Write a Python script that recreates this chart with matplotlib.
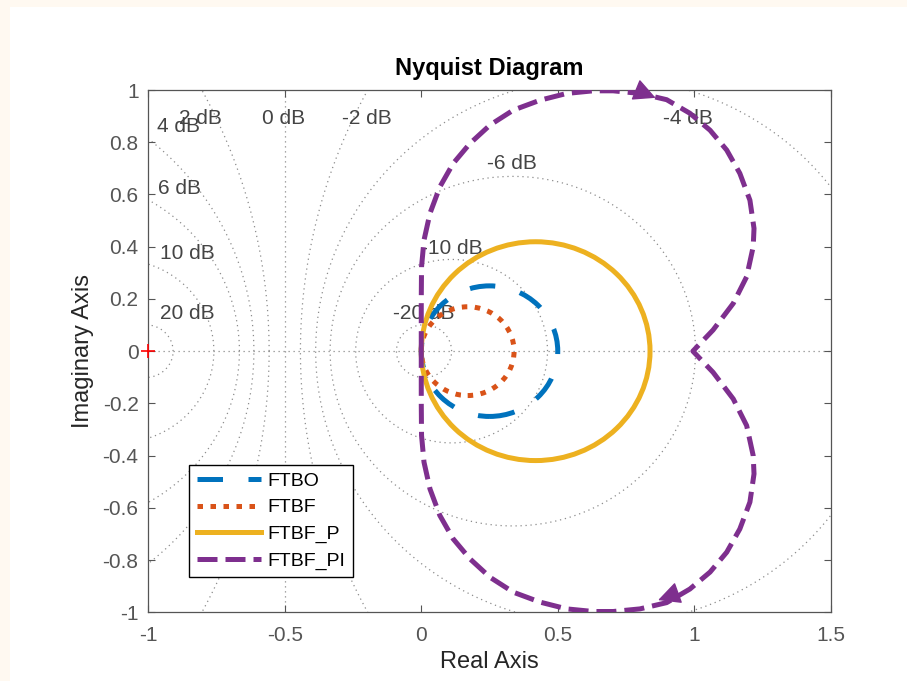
import numpy as np
import matplotlib
matplotlib.use('Agg')
import matplotlib.pyplot as plt
from matplotlib.patches import Circle, Rectangle
from matplotlib.lines import Line2D

plt.rcParams['font.family'] = ['Liberation Sans', 'DejaVu Sans']

#%% datos leidos del grafico
# lazos de primer orden -> circulos (centro, radio) sobre el eje real
circ_names = ['FTBO', 'FTBF', 'FTBF_P']
circ_center = [0.25, 0.17, 0.419]
circ_radius = [0.25, 0.17, 0.419]

# FTBF_PI, mitad superior, desde w=0 (1,0) hasta w->inf (0,0)
pi_re = [0.995, 1.069, 1.143, 1.192, 1.216, 1.219, 1.204, 1.167, 1.119, 1.058,
         0.984, 0.899, 0.801, 0.703, 0.630, 0.533, 0.435, 0.337, 0.252, 0.178,
         0.117, 0.068, 0.032, 0.010, 0.001, 0.0, 0.0, 0.0]
pi_im = [0.0, 0.081, 0.183, 0.285, 0.400, 0.470, 0.578, 0.681, 0.770, 0.846,
         0.911, 0.963, 0.987, 0.997, 0.997, 0.987, 0.961, 0.923, 0.866, 0.795,
         0.719, 0.629, 0.528, 0.425, 0.323, 0.196, 0.08, 0.0]

# grilla de M-circulos
grid_db = [20, 10, 6, 4, 2, 0, -2, -4, -6, -10, -20]
db_lab_x = [-0.858, -0.858, -0.887, -0.888, -0.81, -0.506, -0.198, 0.977, 0.331, 0.111, 0.01]
db_lab_y = [0.146, 0.375, 0.624, 0.86, 0.89, 0.89, 0.89, 0.89, 0.72, 0.395, 0.146]

xticks = [-1, -0.5, 0, 0.5, 1, 1.5]
xtick_lab = ['-1', '-0.5', '0', '0.5', '1', '1.5']
yticks = [1, 0.8, 0.6, 0.4, 0.2, 0, -0.2, -0.4, -0.6, -0.8, -1]
ytick_lab = ['1', '0.8', '0.6', '0.4', '0.2', '0', '-0.2', '-0.4', '-0.6', '-0.8', '-1']

c_blue = '#0072BD'
c_red = '#D95319'
c_yel = '#EDB120'
c_pur = '#7E2F8E'
c_grid = '#8c8c8c'

#%% figura
fig = plt.figure(figsize=(9.07, 6.81), dpi=100)
fig.patch.set_facecolor('#fff9f1')
fig.add_artist(Rectangle((10/907, 0), 1, 674/681, transform=fig.transFigure,
                         facecolor='white', edgecolor='none', zorder=-10))
ax = fig.add_axes([0.1635, 0.1009, 0.7524, 0.7669])

# M-circulos
th = np.linspace(0, 2*np.pi, 720)
for db in grid_db:
    if db == 0:
        ax.axvline(-0.5, color=c_grid, lw=0.9, ls=(0, (1, 3)), zorder=1)
        continue
    M = 10**(db/20)
    c = -M**2/(M**2 - 1)
    r = abs(M/(M**2 - 1))
    ax.plot(c + r*np.cos(th), r*np.sin(th), color=c_grid, lw=0.9, ls=(0, (1, 3)), zorder=1)
ax.axhline(0, color=c_grid, lw=0.9, ls=(0, (1, 3)), zorder=1)

for db, lx, ly in zip(grid_db, db_lab_x, db_lab_y):
    ax.text(lx, ly, f'{db} dB', fontsize=15, color='#444444', ha='center', va='center', zorder=2)

# curvas
lw = 3.6
estilos = [dict(color=c_blue, ls=(0, (5.1, 5.1))),
           dict(color=c_red, ls=(0, (1.1, 1.5))),
           dict(color=c_yel, ls='-')]
for cx, rr, st in zip(circ_center, circ_radius, estilos):
    ax.add_patch(Circle((cx, 0), rr, fill=False, lw=lw, edgecolor=st['color'],
                        linestyle=st['ls'], zorder=3))

up_x = np.array(pi_re)
up_y = np.array(pi_im)
full_x = np.concatenate([up_x[::-1], up_x[1:]])
full_y = np.concatenate([up_y[::-1], -up_y[1:]])
ax.plot(full_x, full_y, color=c_pur, lw=lw, ls=(0, (4.0, 1.6)), zorder=4)

# flechas
ax.annotate('', xy=(0.868, 0.966), xytext=(0.84, 0.978),
            arrowprops=dict(arrowstyle='-|>,head_length=0.7,head_width=0.35',
                            color=c_pur, lw=1, mutation_scale=20), zorder=5)
ax.annotate('', xy=(0.858, -0.957), xytext=(0.89, -0.945),
            arrowprops=dict(arrowstyle='-|>,head_length=0.7,head_width=0.35',
                            color=c_pur, lw=1, mutation_scale=20), zorder=5)

ax.plot([-1], [0], marker='+', color='red', ms=10, mew=1.2, zorder=6, clip_on=False)

ax.set_xlim(-1, 1.5)
ax.set_ylim(-1, 1)
ax.set_xticks(xticks)
ax.set_xticklabels(xtick_lab)
ax.set_yticks(yticks)
ax.set_yticklabels(ytick_lab)
ax.tick_params(direction='in', top=True, right=True, length=5, width=0.8,
               colors='#555555', labelsize=15)
ax.tick_params(axis='x', pad=10)
ax.tick_params(axis='y', pad=7)
for sp in ax.spines.values():
    sp.set_color('#555555')
    sp.set_linewidth(0.9)

ax.set_title('Nyquist Diagram', fontsize=17, fontweight='bold', pad=11)
ax.set_xlabel('Real Axis', fontsize=17, color='#262626', labelpad=4)
ax.set_ylabel('Imaginary Axis', fontsize=17, color='#262626', labelpad=6)

handles = [Line2D([], [], color=c_blue, lw=lw, ls=(0, (5.1, 5.1))),
           Line2D([], [], color=c_red, lw=lw, ls=(0, (1.1, 1.5))),
           Line2D([], [], color=c_yel, lw=lw, ls='-'),
           Line2D([], [], color=c_pur, lw=lw, ls=(0, (4.0, 1.6)))]
leg = ax.legend(handles, circ_names + ['FTBF_PI'], loc='lower left',
                bbox_to_anchor=(0.06, 0.067), fontsize=14, frameon=True, fancybox=False,
                edgecolor='black', framealpha=1, handlelength=3.3, handletextpad=0.3,
                labelspacing=0.45, borderpad=0.4, borderaxespad=0)
leg.get_frame().set_linewidth(1.0)

fig.savefig('out.png', dpi=100, facecolor=fig.get_facecolor())
